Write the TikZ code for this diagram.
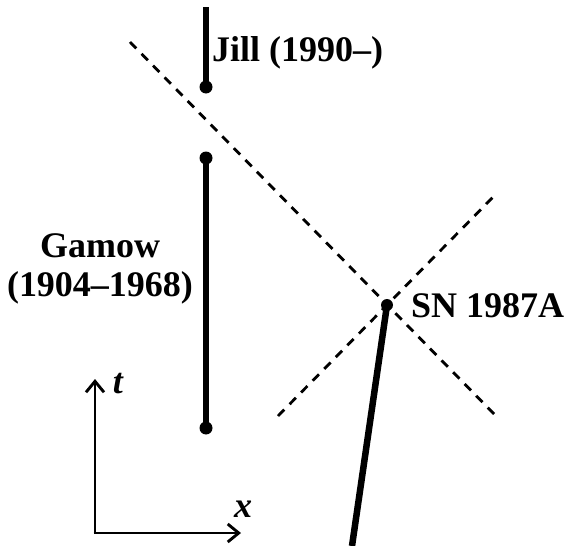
\documentclass[tikz,border=0pt]{standalone}
\usepackage{fontspec}
\setmainfont{Liberation Serif}
\usetikzlibrary{arrows.meta}
\begin{document}
\begin{tikzpicture}[x=1pt,y=-1pt,
  worldline/.style={line width=6.5pt},
  lightcone/.style={line width=2.8pt, dash pattern=on 9pt off 7.5pt},
  axis/.style={line width=2.9pt, -{Straight Barb[length=11pt,width=18pt,line width=2.9pt]}},
  event/.style={circle, fill=black, inner sep=0pt, minimum size=13pt},
  lbl/.style={font=\fontsize{36}{39}\selectfont\bfseries, inner sep=0pt},
  axlbl/.style={font=\fontsize{36}{39}\selectfont\bfseries\itshape, inner sep=0pt}]
\useasboundingbox (0,0) rectangle (566,546);
% light cone
\coordinate (c1) at (130,42);
\coordinate (c2) at (495,415);
\coordinate (c3) at (278,416);
\coordinate (c4) at (497,193);
\draw[lightcone] (c1) -- (c2);
\draw[lightcone] (c3) -- (c4);
% Jill
\coordinate (jtop) at (206,7);
\node[event] (jdot) at (206,87) {};
\draw[worldline] (jtop) -- (jdot.center);
\node[lbl, anchor=base west] (jill) at (212,61) {Jill (1990–)};
% Gamow
\node[event] (gtop) at (206,158) {};
\node[event] (gbot) at (206,428) {};
\draw[worldline] (gtop.center) -- (gbot.center);
\node[lbl, align=center, anchor=north] (gamow) at (100,233) {Gamow\\(1904–1968)};
% SN 1987A
\node[event, minimum size=12pt] (sn) at (387,305) {};
\coordinate (snbot) at (352,546);
\draw[worldline] (snbot) -- (sn.center);
\node[lbl, anchor=base west] (snlbl) at (411,317) {SN 1987A};
% axes
\coordinate (o) at (95,533);
\coordinate (tend) at (95,379);
\coordinate (xend) at (241,533);
\draw[axis] (o) -- (tend);
\draw[axis] ([xshift=-1.45pt]o) -- (xend);
\node[axlbl, anchor=base] (tl) at (118,393) {t};
\node[axlbl, anchor=base] (xl) at (243,517) {x};
\end{tikzpicture}
\end{document}
